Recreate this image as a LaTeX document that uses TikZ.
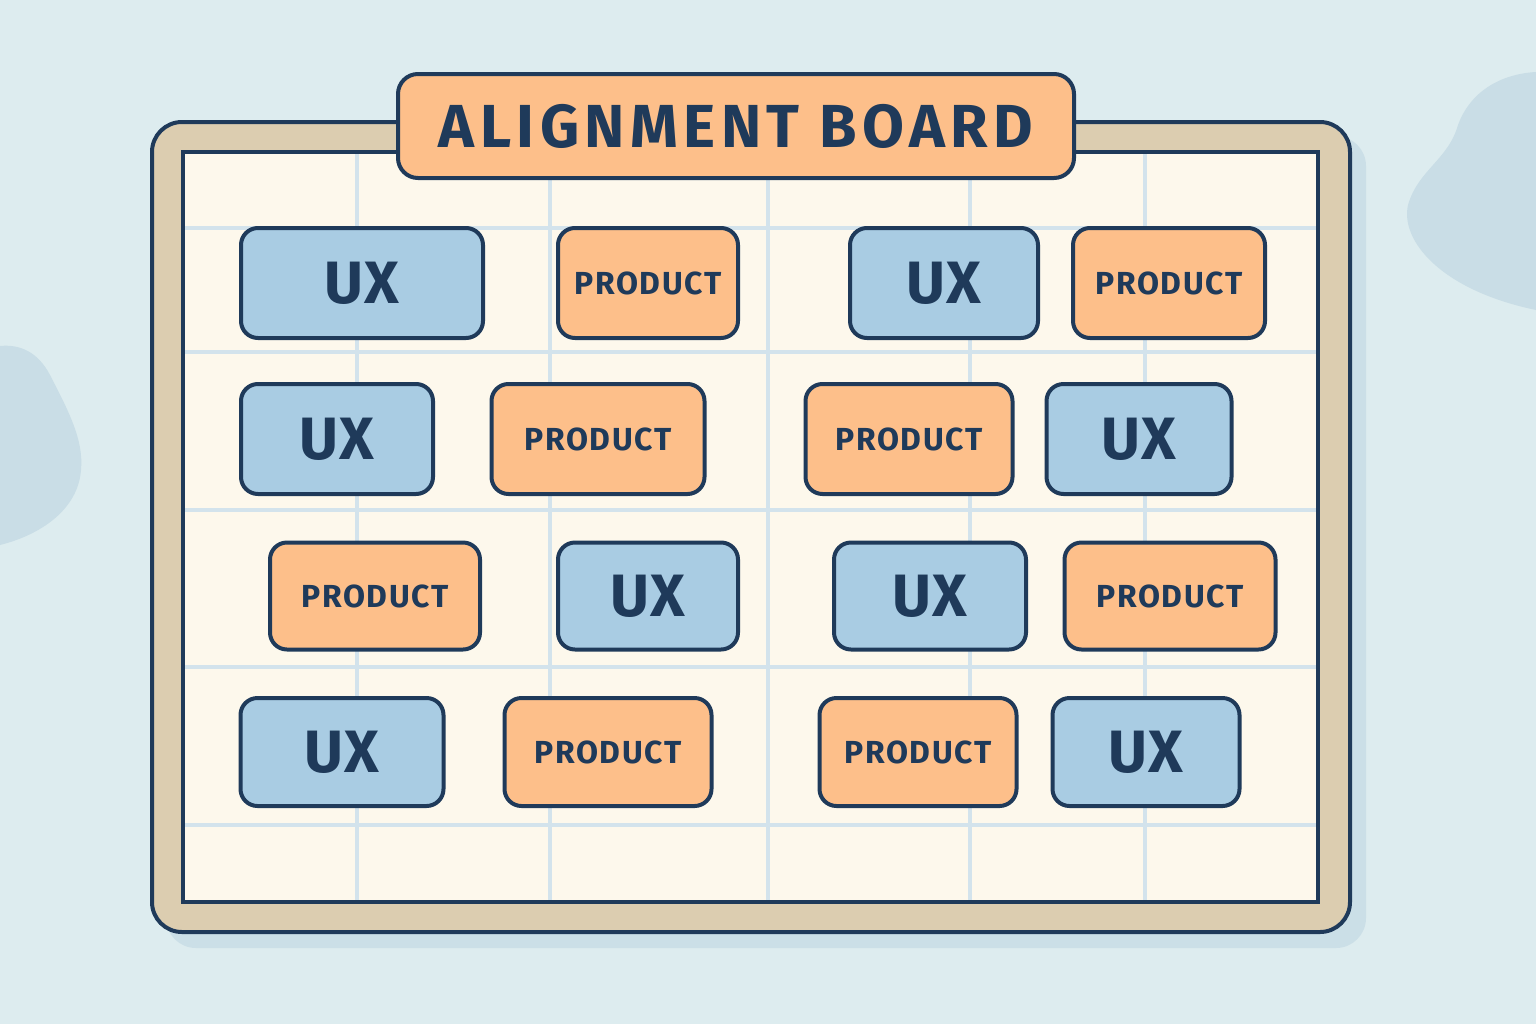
\documentclass[tikz,border=0pt]{standalone}
\usepackage{fontspec}
\newfontfamily\cardfont{Fira Sans}[LetterSpace=2]
\newfontfamily\prodfont{Fira Sans}[LetterSpace=5]
\newfontfamily\titlefont{Fira Sans}[LetterSpace=9]
\definecolor{bg}{HTML}{DDECEF}
\definecolor{blob}{HTML}{C9DDE6}
\definecolor{shadowc}{HTML}{CBDFE7}
\definecolor{navy}{HTML}{1F3A5A}
\definecolor{tan}{HTML}{DCCDB0}
\definecolor{paper}{HTML}{FDF8EC}
\definecolor{gridc}{HTML}{D3E3EC}
\definecolor{orangec}{HTML}{FDBF8A}
\definecolor{bluec}{HTML}{A9CCE3}
\tikzset{
  card/.style={draw=navy, line width=4bp, rounded corners=17bp, text=navy, inner sep=0pt},
  ux/.style={card, fill=bluec, font=\cardfont\bfseries\fontsize{60}{62}\selectfont},
  prod/.style={card, fill=orangec, font=\prodfont\bfseries\fontsize{32}{34}\selectfont},
  gridline/.style={draw=gridc, line width=4bp},
}
\begin{document}
\begin{tikzpicture}[x=1bp,y=-1bp]
\fill[bg] (0,0) rectangle (1536,1024);
\useasboundingbox (0,0) rectangle (1536,1024);
% blobs
\fill[blob] (0,346) .. controls (20,344) and (38,352) .. (50,375) .. controls (68,410) and (84,440) .. (81,470) .. controls (78,510) and (40,535) .. (0,545) -- cycle;
\fill[blob] (1536,72) .. controls (1500,74) and (1470,92) .. (1458,125) .. controls (1448,160) and (1418,170) .. (1408,205) .. controls (1400,240) and (1440,290) .. (1536,310) -- cycle;
% board shadow
\fill[shadowc, rounded corners=30bp] (166,136) rectangle (1366,948);
% board frame
\draw[navy, fill=tan, line width=4bp, rounded corners=30bp] (152,122) rectangle (1350,932);
\draw[navy, fill=paper, line width=4bp] (183,152) rectangle (1318,902);
% grid
\foreach \x in {357,550,768,970,1145} \draw[gridline] (\x,154) -- (\x,900);
\foreach \y in {228,352,510,667,825} \draw[gridline] (185,\y) -- (1316,\y);
\draw[navy, line width=4bp] (183,152) rectangle (1318,902);
% title
\node[draw=navy, line width=4bp, fill=orangec, rounded corners=20bp, minimum width=676bp, minimum height=104bp, text=navy, font=\titlefont\bfseries\fontsize{61}{62}\selectfont] (title) at (736,126) {ALIGNMENT BOARD};
% cards row 1
\node[ux, minimum width=242bp, minimum height=110bp] (u11) at (362,283) {UX};
\node[prod, minimum width=180bp, minimum height=110bp] (p12) at (648,283) {PRODUCT};
\node[ux, minimum width=188bp, minimum height=110bp] (u13) at (944,283) {UX};
\node[prod, minimum width=192bp, minimum height=110bp] (p14) at (1169,283) {PRODUCT};
% row 2
\node[ux, minimum width=192bp, minimum height=110bp] (u21) at (337,439) {UX};
\node[prod, minimum width=213bp, minimum height=110bp] (p22) at (598,439) {PRODUCT};
\node[prod, minimum width=207bp, minimum height=110bp] (p23) at (909,439) {PRODUCT};
\node[ux, minimum width=185bp, minimum height=110bp] (u24) at (1139,439) {UX};
% row 3
\node[prod, minimum width=210bp, minimum height=107bp] (p31) at (375,596) {PRODUCT};
\node[ux, minimum width=180bp, minimum height=107bp] (u32) at (648,596) {UX};
\node[ux, minimum width=192bp, minimum height=107bp] (u33) at (930,596) {UX};
\node[prod, minimum width=211bp, minimum height=107bp] (p34) at (1170,596) {PRODUCT};
% row 4
\node[ux, minimum width=203bp, minimum height=108bp] (u41) at (342,752) {UX};
\node[prod, minimum width=207bp, minimum height=108bp] (p42) at (608,752) {PRODUCT};
\node[prod, minimum width=197bp, minimum height=108bp] (p43) at (918,752) {PRODUCT};
\node[ux, minimum width=187bp, minimum height=108bp] (u44) at (1146,752) {UX};
\end{tikzpicture}
\end{document}
